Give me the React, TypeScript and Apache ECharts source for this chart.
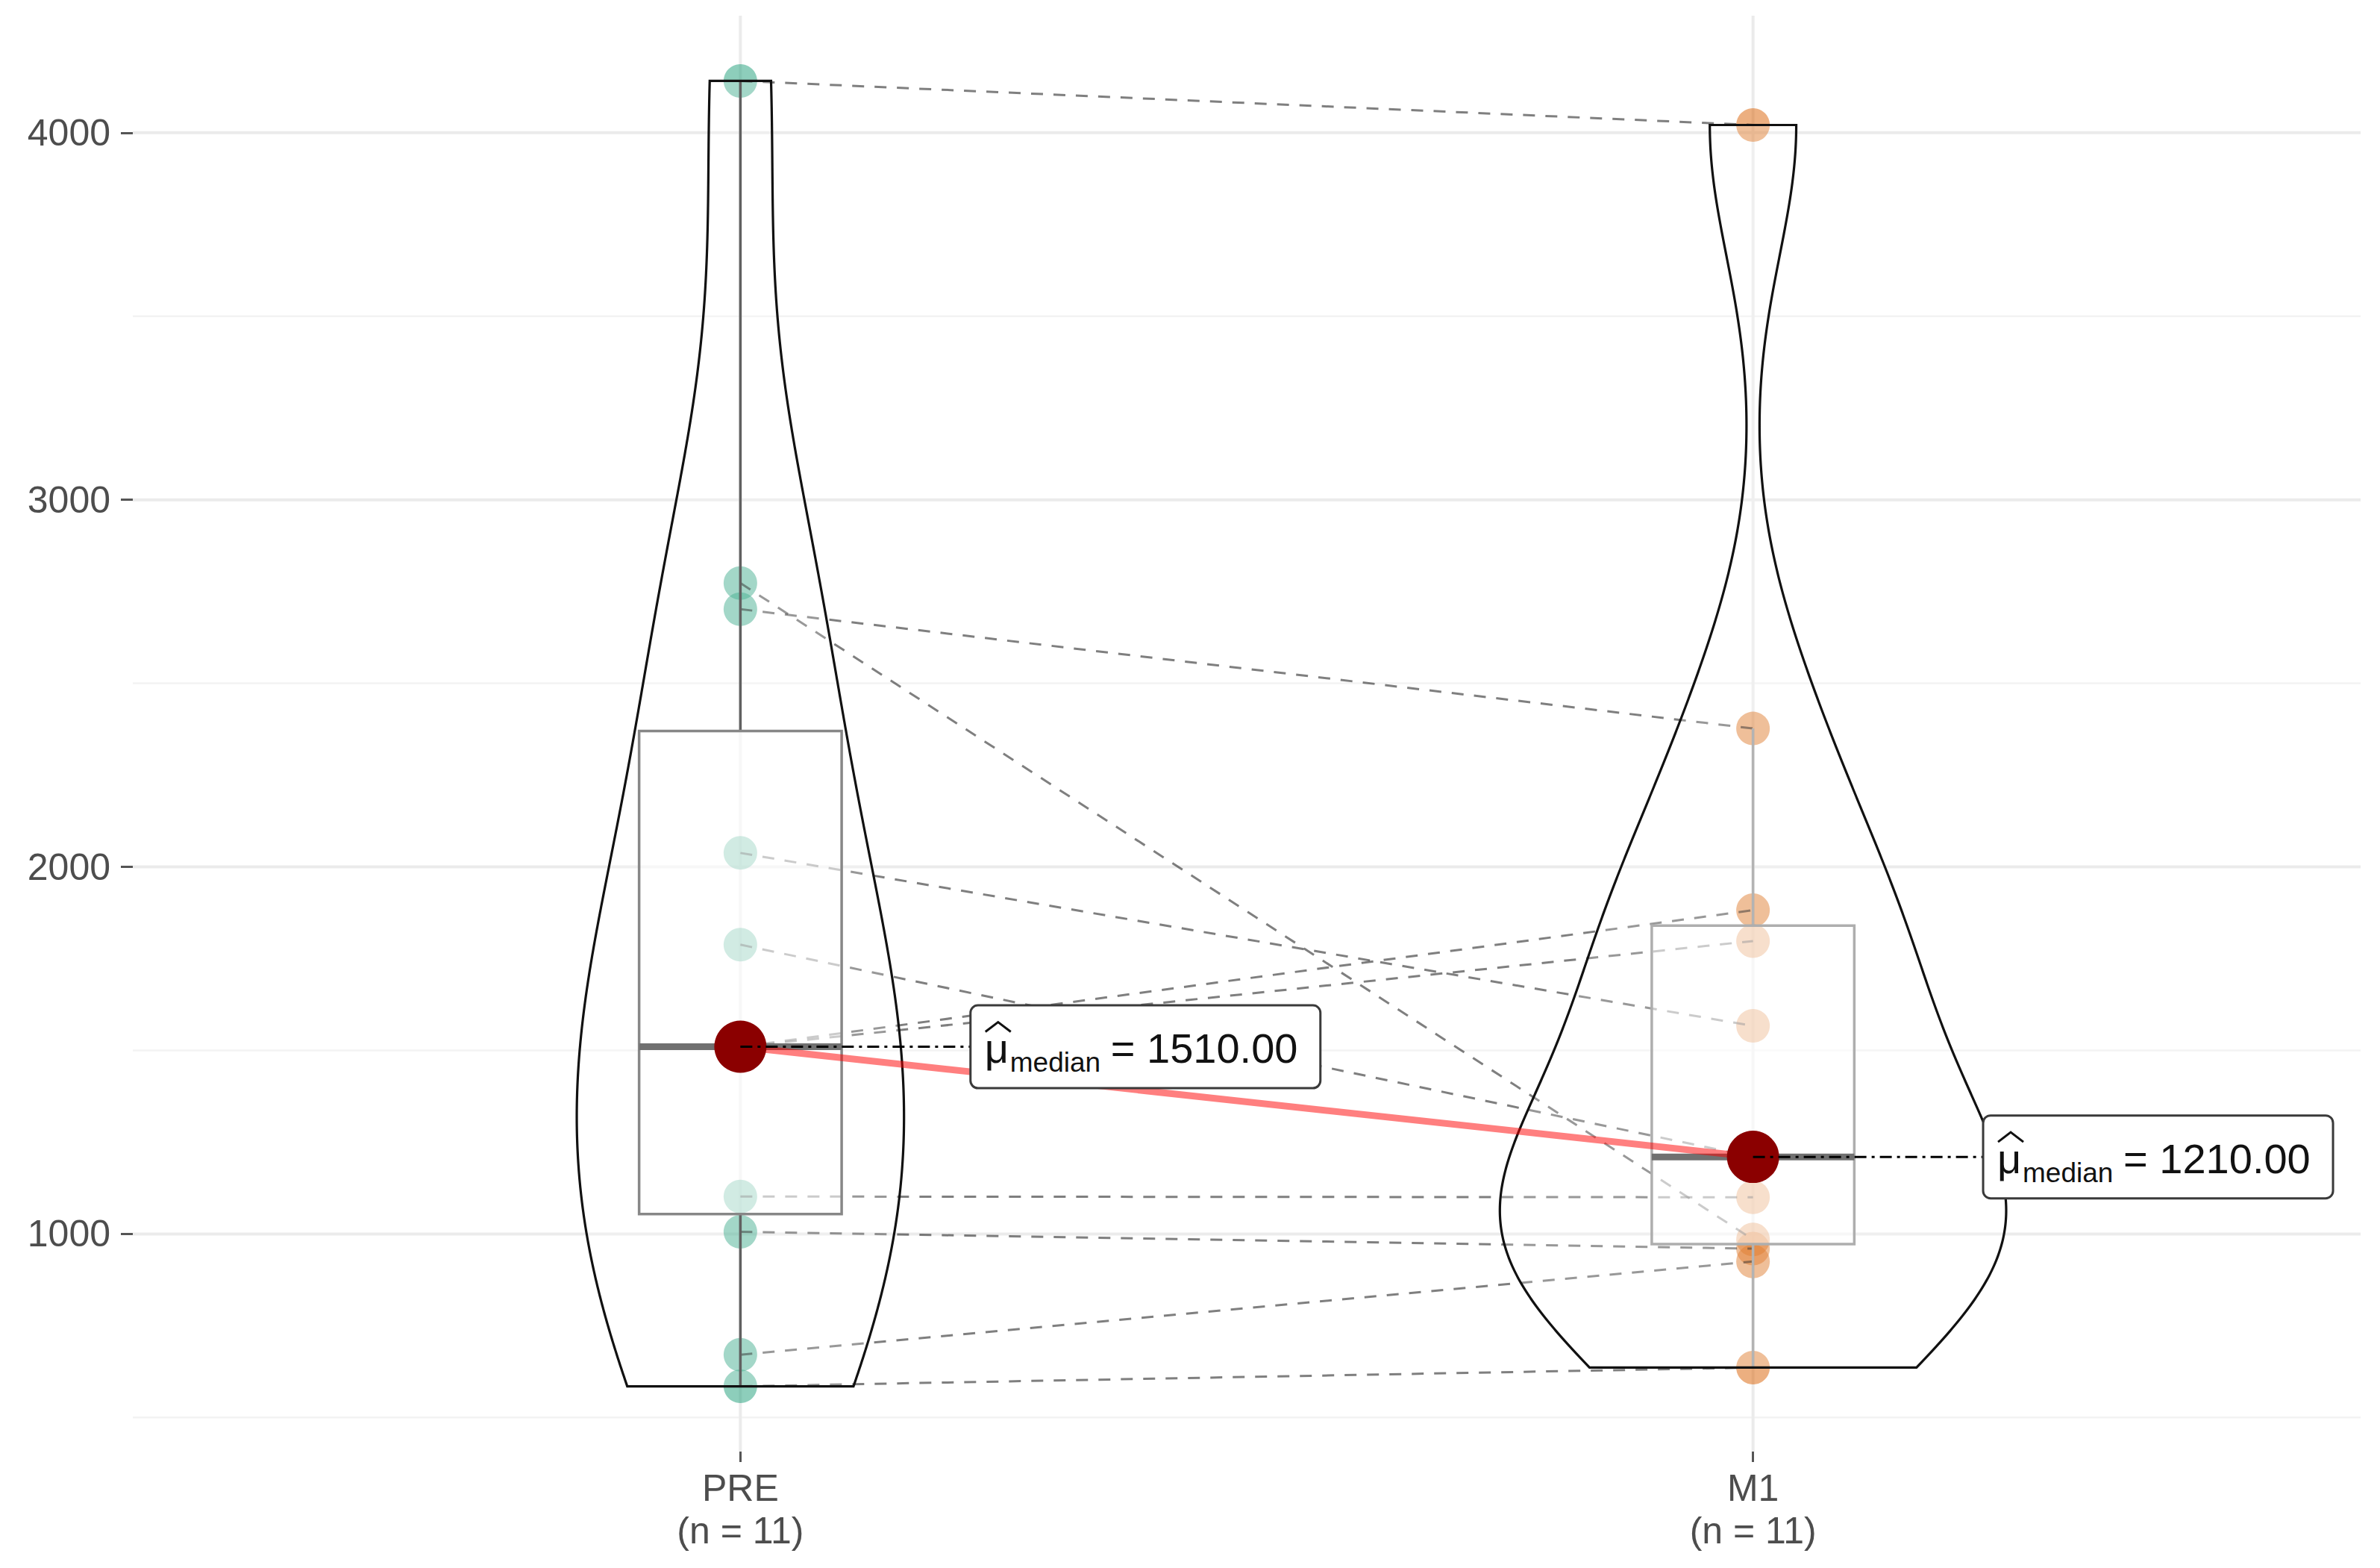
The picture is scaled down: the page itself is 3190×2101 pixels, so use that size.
import React, { useEffect, useRef } from "react";
import * as echarts from "echarts";

// ---------------- data ----------------
const CATEGORIES = ["PRE", "M1"];
const X_POS = [1, 2];
// paired observations (same index = same subject)
const PRE_VALUES = [4141, 2773, 2702, 2038, 1788, 1510, 1510, 1102, 1006, 671, 585];
const M1_VALUES = [4021, 985, 2377, 1567, 1210, 1882, 1798, 1100, 960, 925, 636];
const Y_MAJOR_TICKS = [1000, 2000, 3000, 4000];
const Y_MINOR_TICKS = [500, 1500, 2500, 3500];

const GROUPS = [PRE_VALUES, M1_VALUES];

// ---------------- statistics (derived from data) ----------------
function sortAsc(a: number[]) {
  return [...a].sort((x, y) => x - y);
}
function quantile7(a: number[], p: number) {
  const s = sortAsc(a);
  const h = (s.length - 1) * p;
  const lo = Math.floor(h);
  const hi = Math.min(lo + 1, s.length - 1);
  return s[lo] + (h - lo) * (s[hi] - s[lo]);
}
function stdev(a: number[]) {
  const m = a.reduce((s, v) => s + v, 0) / a.length;
  return Math.sqrt(a.reduce((s, v) => s + (v - m) * (v - m), 0) / (a.length - 1));
}
function bwNrd0(a: number[]) {
  const hi = stdev(a);
  const iqr = quantile7(a, 0.75) - quantile7(a, 0.25);
  let lo = Math.min(hi, iqr / 1.34);
  if (!lo) lo = hi || Math.abs(a[0]) || 1;
  return 0.9 * lo * Math.pow(a.length, -0.2);
}
function densityCurve(a: number[], n = 512) {
  const bw = bwNrd0(a);
  const lo = Math.min(...a);
  const hi = Math.max(...a);
  const ys: number[] = [];
  const ds: number[] = [];
  for (let k = 0; k < n; k++) {
    const y = lo + ((hi - lo) * k) / (n - 1);
    let s = 0;
    for (const v of a) {
      const z = (y - v) / bw;
      s += Math.exp(-0.5 * z * z);
    }
    ys.push(y);
    ds.push(s / (a.length * bw * Math.sqrt(2 * Math.PI)));
  }
  return { ys, ds };
}

const STATS = GROUPS.map((vals) => {
  const q1 = quantile7(vals, 0.25);
  const med = quantile7(vals, 0.5);
  const q3 = quantile7(vals, 0.75);
  const iqr = q3 - q1;
  const inside = vals.filter((v) => v >= q1 - 1.5 * iqr && v <= q3 + 1.5 * iqr);
  return { q1, med, q3, lo: Math.min(...inside), hi: Math.max(...inside) };
});
const DENSITIES = GROUPS.map((v) => densityCurve(v));
const MAX_DENS = Math.max(...DENSITIES.map((d) => Math.max(...d.ds)));
const ALL_VALUES = GROUPS.flat();
const DATA_MIN = Math.min(...ALL_VALUES);
const DATA_MAX = Math.max(...ALL_VALUES);
const Y_MIN = DATA_MIN - 0.05 * (DATA_MAX - DATA_MIN);
const Y_MAX = DATA_MAX + 0.05 * (DATA_MAX - DATA_MIN);
const X_MIN = 0.4;
const X_MAX = 2.6;

// ---------------- styling ----------------
const FONT = '"Liberation Sans", Arial, Helvetica, sans-serif';
const POINT_COLORS = ["#1B9E77", "#D95F02"];
const BOX_COLORS = ["#6a6a6a", "#9a9a9a"];
const WHISKER_COLORS = ["#3a3a3a", "#a0a0a0"];
const BOX_HALF = 0.1;
const VIOLIN_HALF = 0.25;
const LABEL_NUDGE = 0.4;
const LABEL_W = 469;
const LABEL_H = 111;

export default function App() {
  const ref = useRef<HTMLDivElement>(null);

  useEffect(() => {
    document.body.style.margin = "0";
    document.body.style.background = "#ffffff";
    if (!ref.current) return;
    const chart = echarts.init(ref.current, undefined, { renderer: "svg" });

    const gridY = (ticks: number[], color: string, width: number, z: number) => ({
      type: "custom",
      silent: true,
      z,
      data: ticks.map((t) => [X_MIN, t]),
      renderItem: (params: any, api: any) => {
        const a = api.coord([X_MIN, api.value(1)]);
        const b = api.coord([X_MAX, api.value(1)]);
        return {
          type: "line",
          shape: { x1: a[0], y1: a[1], x2: b[0], y2: b[1] },
          style: { stroke: color, lineWidth: width },
        };
      },
    });

    const textStyle = (fontSize: number) => ({
      fontSize,
      fontFamily: FONT,
      fill: "#111",
      align: "left",
      verticalAlign: "middle",
    });

    const option: any = {
      animation: false,
      backgroundColor: "#ffffff",
      grid: { left: 178, right: 26, top: 21, bottom: 156, containLabel: false, outerBoundsMode: "none" },
      tooltip: { show: false },
      xAxis: {
        type: "value",
        min: X_MIN,
        max: X_MAX,
        axisLine: { show: false },
        splitLine: { show: false },
        axisTick: { show: true, customValues: X_POS, length: 14, lineStyle: { color: "#555", width: 3 } },
        axisLabel: {
          customValues: X_POS,
          formatter: (v: number) => {
            const i = X_POS.indexOf(v);
            return i < 0 ? "" : `${CATEGORIES[i]}\n(n = ${GROUPS[i].length})`;
          },
          color: "#4d4d4d",
          fontSize: 50,
          lineHeight: 57,
          fontFamily: FONT,
          margin: 20,
        },
      },
      yAxis: {
        type: "value",
        min: Y_MIN,
        max: Y_MAX,
        axisLine: { show: false },
        splitLine: { show: false },
        axisTick: { show: true, customValues: Y_MAJOR_TICKS, length: 16, lineStyle: { color: "#555", width: 3 } },
        axisLabel: {
          customValues: Y_MAJOR_TICKS,
          formatter: (v: number) => String(Math.round(v)),
          color: "#4d4d4d",
          fontSize: 50,
          fontFamily: FONT,
          margin: 30,
        },
      },
      series: [
        gridY(Y_MINOR_TICKS, "#f3f3f3", 2.5, 0),
        gridY(Y_MAJOR_TICKS, "#ebebeb", 4, 0),
        {
          type: "custom",
          silent: true,
          z: 0,
          data: X_POS.map((x) => [x, Y_MIN]),
          renderItem: (params: any, api: any) => {
            const a = api.coord([api.value(0), Y_MIN]);
            const b = api.coord([api.value(0), Y_MAX]);
            return {
              type: "line",
              shape: { x1: a[0], y1: a[1], x2: b[0], y2: b[1] },
              style: { stroke: "#ebebeb", lineWidth: 4 },
            };
          },
        },
        // raw points
        ...GROUPS.map((vals, g) => ({
          type: "scatter",
          z: 2,
          silent: true,
          symbolSize: 45,
          itemStyle: { color: POINT_COLORS[g], opacity: 0.5 },
          data: vals.map((v) => [X_POS[g], v]),
        })),
        // paired dashed paths
        {
          type: "lines",
          coordinateSystem: "cartesian2d",
          z: 3,
          silent: true,
          lineStyle: { color: "#000", opacity: 0.5, width: 3, type: [16, 14] },
          data: PRE_VALUES.map((v, i) => ({
            coords: [
              [X_POS[0], v],
              [X_POS[1], M1_VALUES[i]],
            ],
          })),
        },
        // boxplots
        {
          type: "custom",
          z: 4,
          silent: true,
          data: X_POS.map((x, i) => [x, STATS[i].med]),
          renderItem: (params: any, api: any) => {
            const g = params.dataIndex;
            const x = X_POS[g];
            const s = STATS[g];
            const tl = api.coord([x - BOX_HALF, s.q3]);
            const br = api.coord([x + BOX_HALF, s.q1]);
            const top = api.coord([x, s.hi]);
            const bot = api.coord([x, s.lo]);
            const mL = api.coord([x - BOX_HALF, s.med]);
            const mR = api.coord([x + BOX_HALF, s.med]);
            return {
              type: "group",
              children: [
                {
                  type: "line",
                  shape: { x1: top[0], y1: top[1], x2: top[0], y2: tl[1] },
                  style: { stroke: WHISKER_COLORS[g], lineWidth: 3.5 },
                },
                {
                  type: "line",
                  shape: { x1: bot[0], y1: br[1], x2: bot[0], y2: bot[1] },
                  style: { stroke: WHISKER_COLORS[g], lineWidth: 3.5 },
                },
                {
                  type: "rect",
                  shape: { x: tl[0], y: tl[1], width: br[0] - tl[0], height: br[1] - tl[1] },
                  style: { fill: "rgba(255,255,255,0.5)", stroke: BOX_COLORS[g], lineWidth: 3.5 },
                },
                {
                  type: "line",
                  shape: { x1: mL[0], y1: mL[1], x2: mR[0], y2: mR[1] },
                  style: { stroke: "#4d4d4d", lineWidth: 9 },
                },
              ],
            };
          },
        },
        // violins
        {
          type: "custom",
          z: 5,
          silent: true,
          data: X_POS.map((x, i) => [x, STATS[i].med]),
          renderItem: (params: any, api: any) => {
            const g = params.dataIndex;
            const x = X_POS[g];
            const d = DENSITIES[g];
            const right: number[][] = [];
            const left: number[][] = [];
            for (let k = 0; k < d.ys.length; k++) {
              const w = (d.ds[k] / MAX_DENS) * VIOLIN_HALF;
              right.push(api.coord([x + w, d.ys[k]]));
              left.push(api.coord([x - w, d.ys[k]]));
            }
            const pts = right.concat(left.reverse());
            return {
              type: "polygon",
              shape: { points: pts },
              style: { fill: "rgba(255,255,255,0.2)", stroke: "#111", lineWidth: 3.2 },
            };
          },
        },
        // centrality path
        {
          type: "line",
          z: 6,
          silent: true,
          symbol: "none",
          lineStyle: { color: "red", opacity: 0.5, width: 9 },
          data: X_POS.map((x, i) => [x, STATS[i].med]),
        },
        // centrality points
        {
          type: "scatter",
          z: 7,
          silent: true,
          symbolSize: 70,
          itemStyle: { color: "#8B0000", opacity: 1 },
          data: X_POS.map((x, i) => [x, STATS[i].med]),
        },
        // centrality labels
        {
          type: "custom",
          z: 8,
          silent: true,
          data: X_POS.map((x, i) => [x, STATS[i].med]),
          renderItem: (params: any, api: any) => {
            const g = params.dataIndex;
            const x = X_POS[g];
            const med = STATS[g].med;
            const p = api.coord([x, med]);
            const c = api.coord([x + LABEL_NUDGE, med]);
            const L = c[0] - LABEL_W / 2;
            const C = c[1];
            return {
              type: "group",
              children: [
                {
                  type: "line",
                  shape: { x1: p[0], y1: p[1], x2: L, y2: C },
                  style: { stroke: "#000", lineWidth: 3, lineDash: [16, 7, 4, 7] },
                },
                {
                  type: "rect",
                  shape: { x: L, y: C - LABEL_H / 2, width: LABEL_W, height: LABEL_H, r: 10 },
                  style: { fill: "#ffffff", stroke: "#3a3a3a", lineWidth: 3 },
                },
                {
                  type: "polyline",
                  shape: {
                    points: [
                      [L + 20, C - 20],
                      [L + 37, C - 33],
                      [L + 54, C - 20],
                    ],
                  },
                  style: { stroke: "#111", lineWidth: 3, fill: null },
                },
                { type: "text", x: L + 19, y: C + 2, style: { text: "μ", ...textStyle(56) } },
                { type: "text", x: L + 53, y: C + 21, style: { text: "median", ...textStyle(37) } },
                { type: "text", x: L + 188, y: C + 2, style: { text: `= ${med.toFixed(2)}`, ...textStyle(56) } },
              ],
            };
          },
        },
      ],
    };

    chart.setOption(option);
    return () => chart.dispose();
  }, []);

  return <div ref={ref} style={{ width: 3190, height: 2101, background: "#ffffff" }} />;
}
